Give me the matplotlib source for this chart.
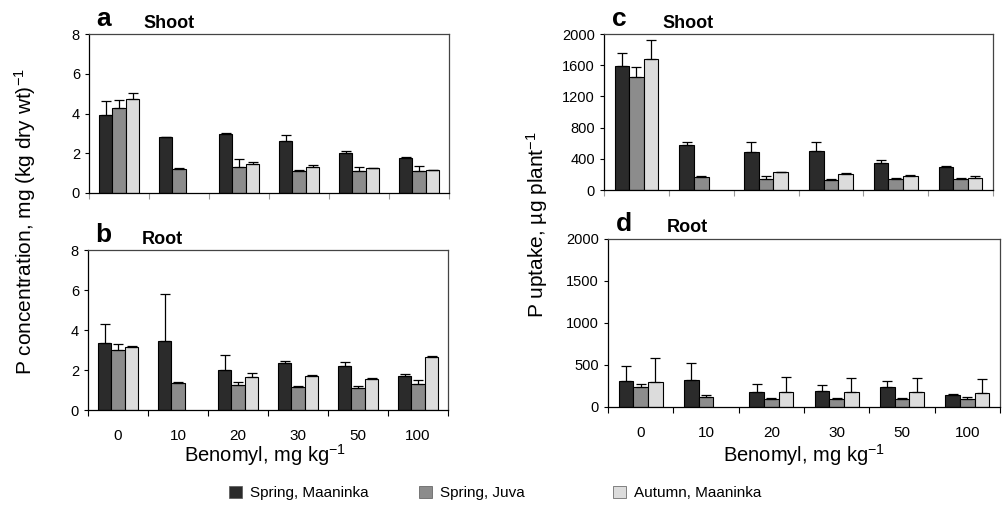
import matplotlib
matplotlib.use("Agg")
import matplotlib.pyplot as plt
import numpy as np
from matplotlib.patches import Patch

plt.rcParams['font.family'] = ['Liberation Sans', 'DejaVu Sans']
plt.rcParams['mathtext.fontset'] = 'custom'
plt.rcParams['mathtext.rm'] = 'Liberation Sans'
plt.rcParams['mathtext.it'] = 'Liberation Sans:italic'
plt.rcParams['mathtext.bf'] = 'Liberation Sans:bold'
plt.rcParams['mathtext.default'] = 'regular'

doses = ["0", "10", "20", "30", "50", "100"]
series = ["Spring, Maaninka", "Spring, Juva", "Autumn, Maaninka"]
colors = ["#2b2b2b", "#8c8c8c", "#dcdcdc"]

# Panel a: shoot P concentration (mean, upper error end)
a_sm = [3.93, 2.82, 2.99, 2.62, 2.00, 1.78]
a_sm_top = [4.61, 2.84, 3.02, 2.92, 2.10, 1.81]
a_sj = [4.30, 1.22, 1.29, 1.11, 1.11, 1.11]
a_sj_top = [4.68, 1.24, 1.72, 1.16, 1.33, 1.36]
a_am = [4.71, np.nan, 1.46, 1.31, 1.24, 1.16]
a_am_top = [5.02, np.nan, 1.54, 1.43, 1.27, 1.17]

# Panel b: root P concentration
b_sm = [3.33, 3.45, 2.02, 2.33, 2.18, 1.70]
b_sm_top = [4.28, 5.80, 2.75, 2.47, 2.42, 1.82]
b_sj = [3.00, 1.33, 1.27, 1.15, 1.10, 1.32]
b_sj_top = [3.28, 1.42, 1.42, 1.20, 1.22, 1.50]
b_am = [3.17, np.nan, 1.65, 1.70, 1.57, 2.63]
b_am_top = [3.19, np.nan, 1.83, 1.73, 1.60, 2.68]

# Panel c: shoot P uptake
c_sm = [1585, 583, 492, 501, 341, 294]
c_sm_top = [1754, 609, 609, 613, 380, 302]
c_sj = [1447, 168, 143, 134, 143, 138]
c_sj_top = [1577, 177, 181, 143, 151, 151]
c_am = [1685, np.nan, 225, 199, 181, 160]
c_am_top = [1922, np.nan, 233, 216, 186, 181]

# Panel d: root P uptake
d_sm = [314, 322, 175, 195, 239, 139]
d_sm_top = [489, 521, 270, 258, 306, 155]
d_sj = [239, 123, 95, 95, 99, 99]
d_sj_top = [274, 143, 107, 103, 107, 119]
d_am = [298, np.nan, 183, 183, 179, 167]
d_am_top = [584, np.nan, 358, 350, 346, 330]

W, H = 1002, 513
fig = plt.figure(figsize=(W / 100, H / 100), dpi=100)

def px_axes(l, t, r, b):
    return fig.add_axes([l / W, 1 - b / H, (r - l) / W, (b - t) / H])

def draw(ax, data, ymax, yticks, letter, title, xlabels):
    x = np.arange(len(doses))
    bw = 0.225
    for k, (mean, top) in enumerate(data):
        mean = np.array(mean, dtype=float)
        top = np.array(top, dtype=float)
        pos = x + (k - 1) * bw
        ax.bar(pos, mean, width=bw, color=colors[k], edgecolor="black",
               linewidth=0.8, zorder=2)
        err = np.vstack([np.zeros_like(mean), top - mean])
        ax.errorbar(pos, mean, yerr=err, fmt="none", ecolor="black",
                    elinewidth=0.9, capsize=3.5, capthick=0.9, zorder=3)
    ax.set_xlim(-0.5, len(doses) - 0.5)
    ax.set_ylim(0, ymax)
    ax.set_yticks(yticks)
    ax.tick_params(axis="y", labelsize=10.5, direction="out", length=3, width=0.8)
    ax.set_xticks(np.arange(len(doses) + 1) - 0.5)
    ax.set_xticklabels([])
    ax.tick_params(axis="x", direction="out", length=4, width=0.8,
                   color="black" if xlabels else "#999999")
    if xlabels:
        ax.set_xticks(x, minor=True)
        ax.set_xticklabels(doses, minor=True)
        ax.tick_params(axis="x", which="minor", length=0, labelsize=11, pad=14)
    for s in ax.spines.values():
        s.set_linewidth(0.9)
    for s in ("top", "right"):
        ax.spines[s].set_color("#444444")
    ax.text(0.02, 1.02, letter, transform=ax.transAxes, fontsize=19,
            fontweight="bold", va="bottom", ha="left")
    ax.text(0.15, 1.015, title, transform=ax.transAxes, fontsize=13,
            fontweight="bold", va="bottom", ha="left")

ax_a = px_axes(89, 34, 449, 193)
ax_b = px_axes(88, 250, 448, 410)
ax_c = px_axes(604, 34, 993, 190)
ax_d = px_axes(608, 239, 1000, 407)

draw(ax_a, [(a_sm, a_sm_top), (a_sj, a_sj_top), (a_am, a_am_top)],
     8, [0, 2, 4, 6, 8], "a", "Shoot", False)
draw(ax_b, [(b_sm, b_sm_top), (b_sj, b_sj_top), (b_am, b_am_top)],
     8, [0, 2, 4, 6, 8], "b", "Root", True)
draw(ax_c, [(c_sm, c_sm_top), (c_sj, c_sj_top), (c_am, c_am_top)],
     2000, [0, 400, 800, 1200, 1600, 2000], "c", "Shoot", False)
draw(ax_d, [(d_sm, d_sm_top), (d_sj, d_sj_top), (d_am, d_am_top)],
     2000, [0, 500, 1000, 1500, 2000], "d", "Root", True)

fig.text(25 / W, 1 - 222 / H, "P concentration, mg (kg dry wt)$^{-1}$",
         rotation=90, fontsize=15, ha="center", va="center")
fig.text(537 / W, 1 - 225 / H, "P uptake, µg plant$^{-1}$",
         rotation=90, fontsize=15, ha="center", va="center")
fig.text(265 / W, 1 - 455 / H, "Benomyl, mg kg$^{-1}$", fontsize=14.5,
         ha="center", va="center")
fig.text(804 / W, 1 - 455 / H, "Benomyl, mg kg$^{-1}$", fontsize=14.5,
         ha="center", va="center")

legend_x = [218, 408, 602]
for name, col, lx in zip(series, colors, legend_x):
    h = Patch(facecolor=col, edgecolor="#555555", linewidth=0.5)
    fig.legend([h], [name], loc="center left",
               bbox_to_anchor=(lx / W, 1 - 493 / H), frameon=False,
               fontsize=11, handlelength=0.9, handleheight=0.9,
               handletextpad=0.5, borderpad=0.2)

fig.savefig("out.png", dpi=100)
